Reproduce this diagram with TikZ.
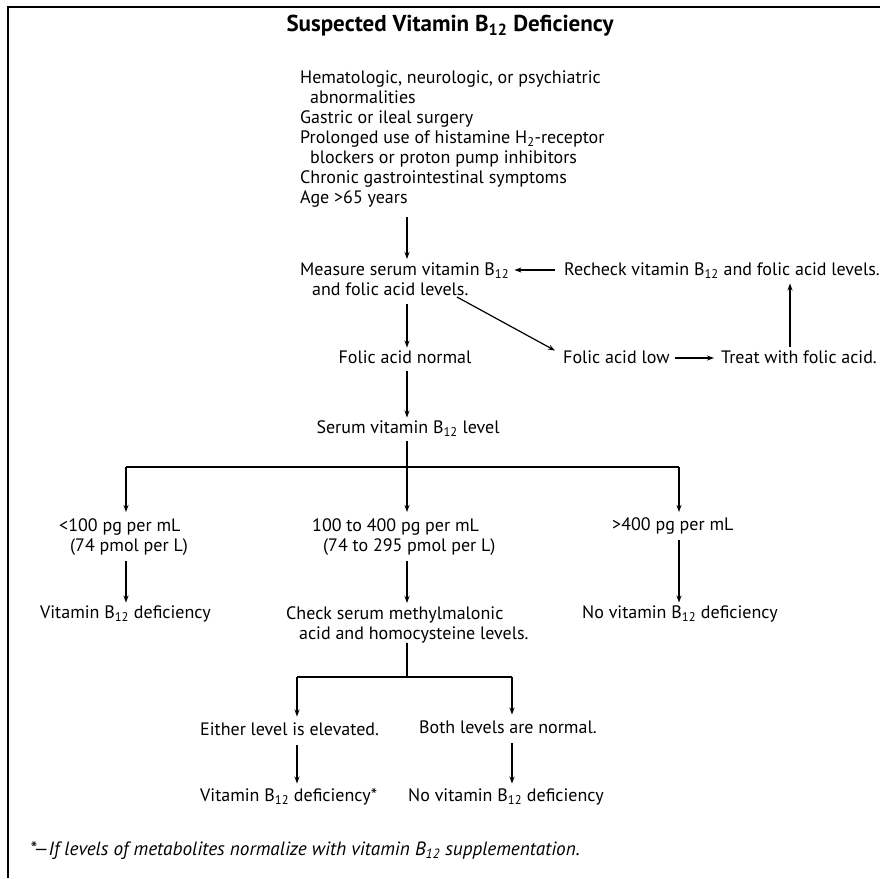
\documentclass[tikz,border=0pt]{standalone}
\usepackage{fontspec}
\setmainfont{PT Sans}
\usetikzlibrary{arrows.meta}
\begin{document}
\begin{tikzpicture}[x=1pt,y=-1pt,
  txt/.style={inner sep=0pt, font=\fontsize{18}{20}\selectfont, text height=13pt, text depth=1.5pt},
  mtxt/.style={inner sep=0pt, font=\fontsize{18}{20}\selectfont, align=left, anchor=north west},
  arr/.style={line width=1.2pt, -{Stealth[length=7pt,width=5pt]}},
  ln/.style={line width=1.2pt}]
\useasboundingbox (0,0) rectangle (880,878);
\draw[line width=2pt] (8,878) -- (8,7) -- (880,7);
\node[inner sep=0pt, font=\fontsize{23}{26}\selectfont\bfseries] (title) at (450,26) {Suspected Vitamin B\textsubscript{12} Deficiency};
\node[mtxt] (risk) at (300,70.5) {Hematologic, neurologic, or psychiatric\\\hspace*{10pt}abnormalities\\Gastric or ileal surgery\\Prolonged use of histamine H\textsubscript{2}-receptor\\\hspace*{10pt}blockers or proton pump inhibitors\\Chronic gastrointestinal symptoms\\Age >65 years};
\node[mtxt] (measure) at (300,263) {Measure serum vitamin B\textsubscript{12}\\\hspace*{12pt}and folic acid levels.};
\node[txt, anchor=west] (recheck) at (564,270) {Recheck vitamin B\textsubscript{12} and folic acid levels.};
\node[txt] (folnorm) at (405,358) {Folic acid normal};
\node[txt, anchor=west] (follow) at (563,358) {Folic acid low};
\node[txt, anchor=west] (treat) at (721,358) {Treat with folic acid.};
\node[txt] (serum) at (408,428) {Serum vitamin B\textsubscript{12} level};
\node[mtxt] (lt100) at (59,518) {<100 pg per mL\\\hspace*{11pt}(74 pmol per L)};
\node[mtxt] (mid) at (312,518) {100 to 400 pg per mL\\\hspace*{11pt}(74 to 295 pmol per L)};
\node[txt, anchor=west] (gt400) at (612,525) {>400 pg per mL};
\node[txt, anchor=west] (vitdef) at (40,613) {Vitamin B\textsubscript{12} deficiency};
\node[mtxt] (check) at (286,606) {Check serum methylmalonic\\\hspace*{13pt}acid and homocysteine levels.};
\node[txt, anchor=west] (novit) at (582,613) {No vitamin B\textsubscript{12} deficiency};
\node[txt, anchor=west] (either) at (200,730) {Either level is elevated.};
\node[txt, anchor=west] (both) at (419,728) {Both levels are normal.};
\node[txt, anchor=west] (vitdef2) at (200,796) {Vitamin B\textsubscript{12} deficiency*};
\node[txt, anchor=west] (novit2) at (408,796) {No vitamin B\textsubscript{12} deficiency};
\node[txt, anchor=west, font=\fontsize{19.2}{20}\selectfont\itshape] (foot) at (30,850) {*---If levels of metabolites normalize with vitamin B\textsubscript{12} supplementation.};
% columns
\coordinate (cA) at (126,0);
\coordinate (cB) at (407,0);
\coordinate (cC) at (679,0);
\coordinate (cD) at (297,0);
\coordinate (cE) at (512,0);
\coordinate (cR) at (790,0);
\coordinate (busL) at (126,467);
\coordinate (busR) at (679,467);
\coordinate (bus2L) at (297,677);
\coordinate (bus2R) at (512,677);
\coordinate (diag) at (457,297);
% connectors
\draw[arr] (risk.south -| cB) ++(0,10) -- ([yshift=4pt]measure.north -| cB);
\draw[arr, shorten <=9pt, shorten >=5pt] (recheck.west) -- (measure.east |- recheck.west);
\draw[arr] ([yshift=-8pt]measure.south -| cB) -- ([yshift=3pt]folnorm.north -| cB);
\draw[arr] (diag) -- ([xshift=-8pt,yshift=0pt]follow.north west);
\draw[arr, shorten <=5pt, shorten >=7pt] (follow.east) -- (treat.west);
\draw[arr] ([yshift=4pt]treat.north -| cR) -- ([yshift=-6pt]recheck.south -| cR);
\draw[arr] ([yshift=-6pt]folnorm.south -| cB) -- ([yshift=3pt]serum.north -| cB);
\draw[ln] (busL) -- (busR);
\draw[arr] ([yshift=-6pt]serum.south -| cB) -- ([yshift=6pt]mid.north -| cB);
\draw[arr] (busL) -- ([yshift=6pt]lt100.north -| busL);
\draw[arr] (busR) -- ([yshift=6pt]lt100.north -| busR);
\draw[arr] ([yshift=-6pt]lt100.south -| cA) -- ([yshift=3pt]vitdef.north -| cA);
\draw[arr] ([yshift=-6pt]mid.south -| cB) -- ([yshift=3pt]check.north -| cB);
\draw[arr] ([yshift=-8pt]gt400.south -| cC) -- ([yshift=3pt]novit.north -| cC);
\draw[ln] ([yshift=-8pt]check.south -| cB) -- (check.south -| cB) |- (bus2L);
\draw[ln] (bus2L) -- (bus2R);
\draw[arr] (bus2L) -- ([yshift=6pt]either.north -| bus2L);
\draw[arr] (bus2R) -- ([yshift=6pt]both.north -| bus2R);
\draw[arr] ([yshift=-8pt]either.south -| cD) -- ([yshift=5pt]vitdef2.north -| cD);
\draw[arr] ([yshift=-8pt]both.south -| cE) -- ([yshift=5pt]novit2.north -| cE);
\end{tikzpicture}
\end{document}
